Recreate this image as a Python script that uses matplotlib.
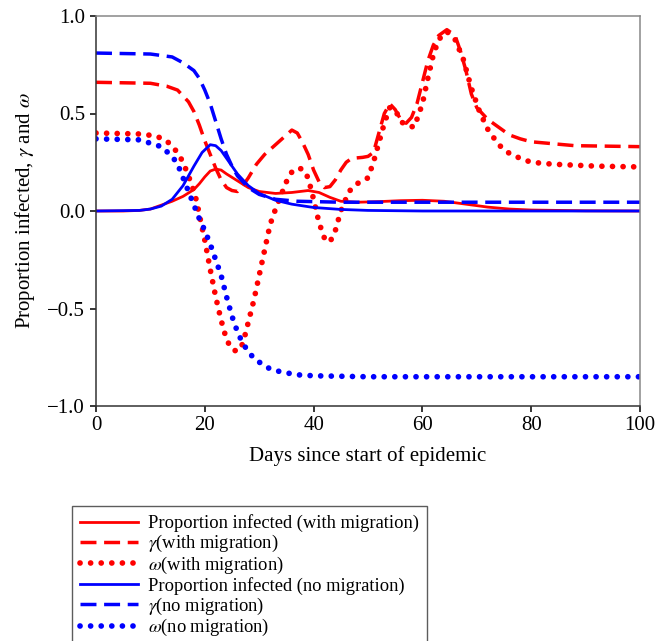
import matplotlib
matplotlib.use("Agg")
import matplotlib.pyplot as plt

plt.rcParams['font.family'] = ['Liberation Serif', 'DejaVu Serif']
plt.rcParams['mathtext.fontset'] = 'stix'

# ---- data ----
inf_mig_x = [0, 5, 8, 10, 12, 14, 16, 18, 19, 20, 21, 22, 23, 24, 26, 28, 30, 33, 36, 39, 41, 43, 45, 48, 52, 56, 60, 64, 68, 72, 76, 80, 90, 100]
inf_mig_y = [0, 0, 0.003, 0.01, 0.03, 0.05, 0.075, 0.11, 0.14, 0.175, 0.205, 0.215, 0.21, 0.19, 0.155, 0.12, 0.1, 0.09, 0.095, 0.105, 0.095, 0.07, 0.05, 0.045, 0.048, 0.053, 0.055, 0.05, 0.035, 0.02, 0.01, 0.005, 0.001, 0]

gam_mig_x = [0, 10, 13, 15, 17, 18, 19, 20, 21, 22, 23, 24, 25, 26, 27, 28, 29.5, 31, 33, 35, 36, 37, 38, 39, 40, 41, 42, 43, 44, 45, 46, 47, 49, 50, 51, 52, 53, 54, 55, 56, 57, 58, 59, 60, 61, 62, 63, 64.5, 66, 67, 68, 69, 70, 72, 74, 76, 78, 80, 84, 88, 100]
gam_mig_y = [0.66, 0.655, 0.64, 0.62, 0.56, 0.51, 0.44, 0.36, 0.29, 0.22, 0.16, 0.12, 0.105, 0.1, 0.13, 0.17, 0.24, 0.29, 0.34, 0.39, 0.415, 0.4, 0.35, 0.29, 0.21, 0.15, 0.12, 0.125, 0.16, 0.21, 0.25, 0.27, 0.275, 0.28, 0.3, 0.4, 0.5, 0.55, 0.52, 0.47, 0.45, 0.48, 0.55, 0.66, 0.77, 0.85, 0.9, 0.93, 0.9, 0.82, 0.72, 0.6, 0.53, 0.47, 0.43, 0.39, 0.37, 0.355, 0.345, 0.335, 0.33]

omg_mig_x = [0, 8, 11, 13, 15, 16, 17, 18, 18.5, 19, 20, 21, 22, 23, 24, 25, 26, 27, 28, 29, 30, 31, 32, 33, 34, 35, 36, 37, 38, 39, 40, 41, 42, 43, 44, 45, 46.5, 48, 50, 51, 52, 53, 54, 55, 56, 57, 58.5, 60, 61, 62, 63, 64.5, 66, 67.5, 69, 70.5, 72, 74, 76, 78, 80, 84, 88, 92, 100]
omg_mig_y = [0.40, 0.395, 0.385, 0.36, 0.3, 0.25, 0.18, 0.1, 0.05, -0.02, -0.15, -0.3, -0.44, -0.56, -0.66, -0.71, -0.72, -0.68, -0.57, -0.46, -0.33, -0.2, -0.07, 0.01, 0.08, 0.15, 0.2, 0.22, 0.215, 0.17, 0.06, -0.06, -0.14, -0.16, -0.1, 0.0, 0.1, 0.14, 0.17, 0.25, 0.35, 0.45, 0.53, 0.52, 0.46, 0.44, 0.43, 0.55, 0.68, 0.8, 0.88, 0.92, 0.88, 0.78, 0.63, 0.51, 0.42, 0.34, 0.295, 0.27, 0.25, 0.24, 0.235, 0.23, 0.226]

inf_nomig_x = [0, 8, 10, 12, 14, 16, 18, 19.5, 21, 22, 23, 24, 26, 28, 30, 33, 36, 40, 45, 50, 60, 100]
inf_nomig_y = [0, 0.003, 0.01, 0.025, 0.06, 0.13, 0.23, 0.3, 0.34, 0.335, 0.31, 0.27, 0.19, 0.13, 0.09, 0.055, 0.035, 0.018, 0.008, 0.003, 0, 0]

gam_nomig_x = [0, 10, 14, 16, 18, 19, 20, 21, 22, 23, 24, 25, 26, 28, 30, 33, 37, 45, 100]
gam_nomig_y = [0.81, 0.805, 0.79, 0.76, 0.72, 0.68, 0.62, 0.55, 0.46, 0.37, 0.29, 0.23, 0.18, 0.12, 0.085, 0.06, 0.05, 0.045, 0.045]

omg_nomig_x = [0, 8, 12, 14, 15, 16, 17, 18, 19, 20, 21, 22, 23, 24, 25, 26, 27, 28, 29, 30, 32, 34, 37, 40, 50, 100]
omg_nomig_y = [0.37, 0.365, 0.33, 0.28, 0.24, 0.17, 0.1, 0.03, -0.04, -0.1, -0.17, -0.25, -0.33, -0.44, -0.54, -0.62, -0.68, -0.72, -0.755, -0.775, -0.81, -0.825, -0.84, -0.845, -0.85, -0.85]

labels = ['Proportion infected (with migration)', r'$\gamma$(with migration)', r'$\omega$(with migration)',
          'Proportion infected (no migration)', r'$\gamma$(no migration)', r'$\omega$(no migration)']
xticks = [0, 20, 40, 60, 80, 100]
yticks = [-1.0, -0.5, 0.0, 0.5, 1.0]

RED = '#ff0000'
BLUE = '#0000ff'

fig = plt.figure(figsize=(6.55, 6.41), dpi=100)
ax = fig.add_axes([96/655, 1 - 406/641, (640-96)/655, (406-16)/641])

solid_kw = dict(linestyle='-', linewidth=2.0)
dash_kw = dict(linestyle=(0, (4.6, 2.2)), linewidth=2.5)
dot_kw = dict(linestyle=(0, (0.01, 1.85)), linewidth=4.1, dash_capstyle='round')

h = []
h += ax.plot(inf_mig_x, inf_mig_y, color=RED, **solid_kw)
h += ax.plot(gam_mig_x, gam_mig_y, color=RED, **dash_kw)
h += ax.plot(omg_mig_x, omg_mig_y, color=RED, **dot_kw)
h += ax.plot(inf_nomig_x, inf_nomig_y, color=BLUE, **solid_kw)
h += ax.plot(gam_nomig_x, gam_nomig_y, color=BLUE, **dash_kw)
h += ax.plot(omg_nomig_x, omg_nomig_y, color=BLUE, **dot_kw)

ax.set_xlim(0, 100)
ax.set_ylim(-1.0, 1.0)
ax.set_xticks(xticks)
ax.set_xticklabels([str(v) for v in xticks])
ax.set_yticks(yticks)
ax.set_yticklabels(['\u22121.0', '\u22120.5', '0.0', '0.5', '1.0'])
ax.tick_params(direction='out', length=4, width=1.1, labelsize=15, top=False, right=False, pad=3)
ax.tick_params(axis='y', pad=4)
ax.set_xlabel('Days since start of epidemic', fontsize=15, labelpad=8)
ax.set_ylabel(r'Proportion infected, $\gamma$ and $\omega$', fontsize=15, labelpad=7)
for s in ['left', 'bottom']:
    ax.spines[s].set_color('#333333')
    ax.spines[s].set_linewidth(1.1)
for s in ['top', 'right']:
    ax.spines[s].set_color('#888888')
    ax.spines[s].set_linewidth(1.1)

leg = fig.legend(h, labels, loc='upper left', bbox_to_anchor=(72/655, 1 - 506/641),
                 bbox_transform=fig.transFigure, fontsize=13.3, frameon=True, fancybox=False,
                 edgecolor='#333333', handlelength=3.1, handletextpad=0.55, borderpad=0.45,
                 labelspacing=0.04, borderaxespad=0.0)
leg.get_frame().set_linewidth(1.0)

fig.savefig('out.png', dpi=100)
